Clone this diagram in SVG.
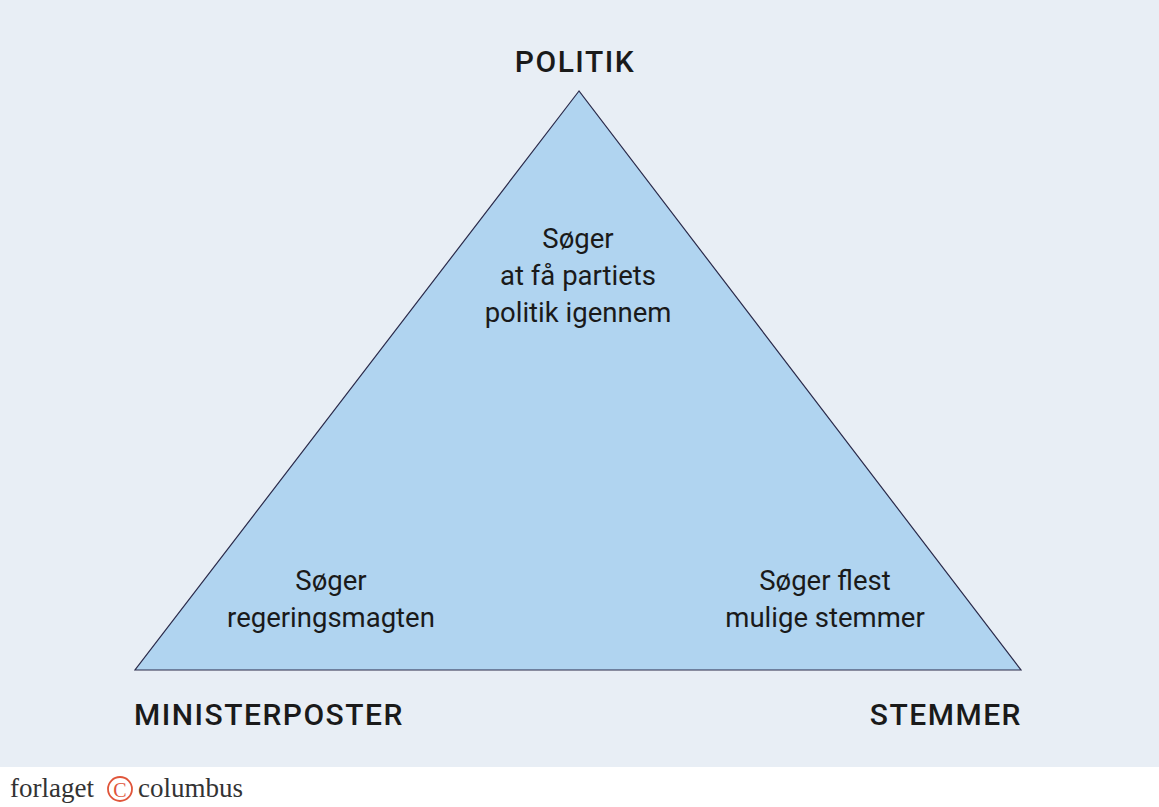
<svg xmlns="http://www.w3.org/2000/svg" width="1159" height="807" viewBox="0 0 1159 807">
<style>
.h{font-family:Roboto,"Liberation Sans",sans-serif;font-size:30px;font-weight:500;fill:#1a1a1a;letter-spacing:1.5px}
.t{font-family:Roboto,"Liberation Sans",sans-serif;font-size:27.5px;fill:#1a1a1a;text-anchor:middle}
.logo{font-family:"Liberation Serif",serif;font-size:27px;fill:#333}
</style>
<rect width="1159" height="807" fill="#fff"/>
<rect width="1159" height="767" fill="#e8eef5"/>
<g id="triangle"><polygon points="579,91 135,670 1021,670" fill="#b0d4f0" stroke="#2a2a4a" stroke-width="1.2"/></g>
<g id="connectors"></g>
<g id="politik"><text class="h" x="575" y="72" text-anchor="middle">POLITIK</text>
<text class="t" x="578" y="248">Søger</text><text class="t" x="578" y="285">at få partiets</text><text class="t" x="578" y="322">politik igennem</text></g>
<g id="ministerposter"><text class="h" x="134" y="725">MINISTERPOSTER</text>
<text class="t" x="331" y="590">Søger</text><text class="t" x="331" y="627">regeringsmagten</text></g>
<g id="stemmer"><text class="h" x="1022" y="725" text-anchor="end">STEMMER</text>
<text class="t" x="825" y="590">Søger flest</text><text class="t" x="825" y="627">mulige stemmer</text></g>
<g id="logo"><text class="logo" x="10" y="797">forlaget</text>
<circle cx="120" cy="789" r="12" fill="none" stroke="#e0553a" stroke-width="1.8"/>
<text x="120" y="797" font-family="Liberation Serif,serif" font-size="20" fill="#e0553a" text-anchor="middle">C</text>
<text class="logo" x="138" y="797">columbus</text></g>
</svg>
